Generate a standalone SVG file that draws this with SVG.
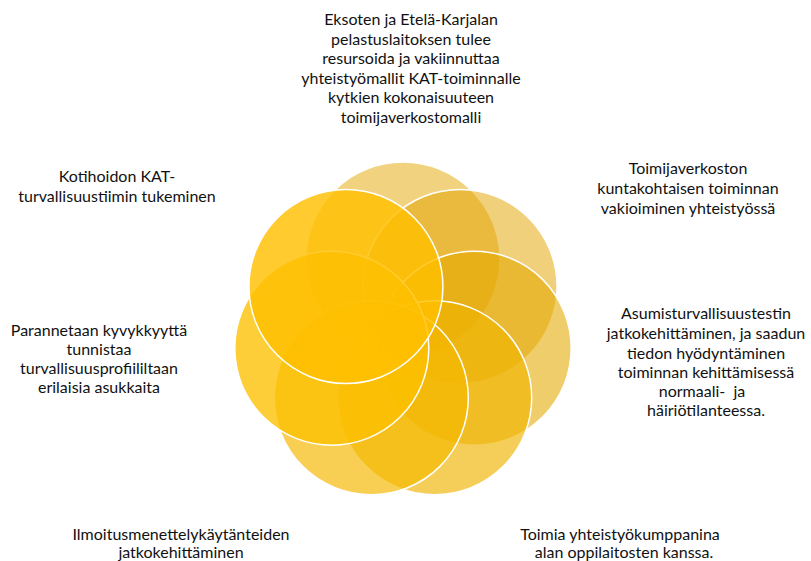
<svg xmlns="http://www.w3.org/2000/svg" width="811" height="561" viewBox="0 0 811 561">
<style>
.c{stroke:#ffffff;stroke-width:1.5}
.t{font-family:Lato,"Open Sans","Liberation Sans",sans-serif;font-size:16px;fill:#111111;text-anchor:middle}
</style>
<rect width="811" height="561" fill="#ffffff"/>
<g id="circles">
<g id="c0"><circle class="c" cx="403" cy="259" r="97" fill="#E3A600" fill-opacity="0.5"/></g>
<g id="c1"><circle class="c" cx="460.1" cy="286.5" r="97" fill="#E3A500" fill-opacity="0.52"/></g>
<g id="c2"><circle class="c" cx="474.2" cy="348.2" r="97" fill="#E6A800" fill-opacity="0.58"/></g>
<g id="c3"><circle class="c" cx="434.7" cy="397.8" r="97" fill="#F0B400" fill-opacity="0.65"/></g>
<g id="c4"><circle class="c" cx="371.3" cy="397.8" r="97" fill="#F5B800" fill-opacity="0.68"/></g>
<g id="c5"><circle class="c" cx="331.8" cy="348.2" r="97" fill="#FDC000" fill-opacity="0.78"/></g>
<g id="c6"><circle class="c" cx="345.9" cy="286.5" r="97" fill="#FFC000" fill-opacity="0.82"/></g>
</g>
<g id="connectors"></g>
<g id="label-top">
<text class="t" x="411" y="25">Eksoten ja Etelä-Karjalan</text>
<text class="t" x="411" y="45">pelastuslaitoksen tulee</text>
<text class="t" x="411" y="64">resursoida ja vakiinnuttaa</text>
<text class="t" x="411" y="84">yhteistyömallit KAT-toiminnalle</text>
<text class="t" x="411" y="103">kytkien kokonaisuuteen</text>
<text class="t" x="411" y="123">toimijaverkostomalli</text>
</g>
<g id="label-upper-right">
<text class="t" x="688" y="174">Toimijaverkoston</text>
<text class="t" x="688" y="194">kuntakohtaisen toiminnan</text>
<text class="t" x="688" y="214">vakioiminen yhteistyössä</text>
</g>
<g id="label-right">
<text class="t" x="706" y="319">Asumisturvallisuustestin</text>
<text class="t" x="706" y="339">jatkokehittäminen, ja saadun</text>
<text class="t" x="706" y="359">tiedon hyödyntäminen</text>
<text class="t" x="706" y="378">toiminnan kehittämisessä</text>
<text class="t" x="702" y="397" xml:space="preserve">normaali-  ja</text>
<text class="t" x="706" y="416">häiriötilanteessa.</text>
</g>
<g id="label-lower-right">
<text class="t" x="620" y="540">Toimia yhteistyökumppanina</text>
<text class="t" x="624" y="558">alan oppilaitosten kanssa.</text>
</g>
<g id="label-lower-left">
<text class="t" x="181" y="540">Ilmoitusmenettelykäytänteiden</text>
<text class="t" x="181" y="558">jatkokehittäminen</text>
</g>
<g id="label-left">
<text class="t" x="99" y="336">Parannetaan kyvykkyyttä</text>
<text class="t" x="99" y="355">tunnistaa</text>
<text class="t" x="99" y="374">turvallisuusprofiililtaan</text>
<text class="t" x="99" y="393">erilaisia asukkaita</text>
</g>
<g id="label-upper-left">
<text class="t" x="117" y="182">Kotihoidon KAT-</text>
<text class="t" x="117" y="202">turvallisuustiimin tukeminen</text>
</g>
</svg>
